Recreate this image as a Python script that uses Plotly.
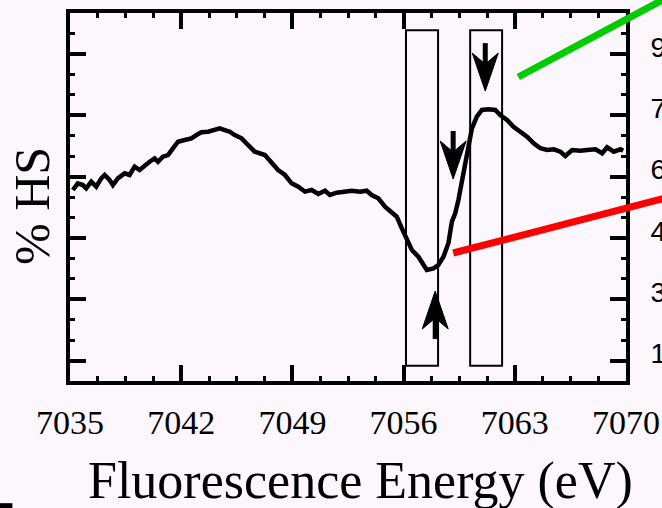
import plotly.graph_objects as go

# ---- data ----
energy_ev = [7035.18, 7035.49, 7035.81, 7036.02, 7036.34, 7036.65, 7036.97, 7037.18, 7037.49, 7037.70,
             7038.01, 7038.44, 7038.75, 7039.07, 7039.38, 7039.70, 7040.01, 7040.33, 7040.54, 7040.85,
             7041.17, 7041.48, 7041.80, 7042.22, 7042.64, 7042.96, 7043.27, 7043.69, 7044.11, 7044.43,
             7044.74, 7045.06, 7045.37, 7045.80, 7046.21, 7046.63, 7047.27, 7047.69, 7048.10, 7048.53,
             7048.95, 7049.37, 7049.79, 7050.21, 7050.63, 7051.05, 7051.36, 7051.79, 7052.31, 7052.73,
             7053.26, 7053.68, 7053.99, 7054.41, 7054.83, 7055.26, 7055.57, 7055.89, 7056.20, 7056.52,
             7056.93, 7057.46, 7057.88, 7058.19, 7058.51, 7058.82, 7059.04, 7059.25, 7059.45, 7059.67,
             7059.88, 7060.09, 7060.30, 7060.61, 7060.93, 7061.35, 7061.77, 7062.08, 7062.51, 7062.92,
             7063.35, 7063.77, 7064.19, 7064.61, 7065.03, 7065.45, 7065.87, 7066.18, 7066.61, 7067.13,
             7067.55, 7068.08, 7068.50, 7068.81, 7069.23, 7069.65, 7069.82]
signal = [56.71, 58.35, 57.93, 57.13, 58.74, 57.52, 59.57, 60.38, 59.16, 57.93,
          59.57, 60.79, 60.38, 62.41, 61.60, 62.82, 63.63, 64.46, 63.63, 64.85,
          65.27, 66.91, 68.52, 68.94, 69.35, 70.16, 70.82, 70.97, 71.38, 71.80,
          71.38, 70.97, 70.16, 69.35, 67.72, 66.08, 65.27, 63.24, 61.60, 60.38,
          58.35, 57.52, 56.30, 56.71, 55.73, 56.54, 55.49, 56.05, 56.30, 56.54,
          56.30, 56.54, 55.49, 54.68, 52.63, 51.40, 50.18, 47.34, 44.48, 42.04,
          40.40, 37.15, 37.56, 38.37, 40.40, 43.68, 48.96, 51.01, 54.27, 59.16,
          64.05, 68.13, 71.80, 74.64, 76.28, 76.45, 76.28, 75.05, 73.83, 72.19,
          70.97, 69.75, 68.13, 66.91, 66.49, 66.67, 66.08, 65.03, 66.49, 66.32,
          66.49, 66.67, 65.69, 67.15, 66.08, 66.67, 66.32]

x_tick_vals = [7035, 7042, 7049, 7056, 7063, 7070]
x_tick_text = ["7035", "7042", "7049", "7056", "7063", "7070"]
y_tick_vals = [15, 30, 45, 60, 75, 90]
y_tick_text = ["15", "30", "45", "60", "75", "90"]

# highlighted energy windows (x0, x1) and their vertical extent
windows = [(7056.15, 7058.17), (7060.19, 7062.20)]
window_y = (13.7, 95.8)
# arrows: (x, y of tip, direction)
arrows = [(7061.14, 80.9, "down"), (7059.12, 59.4, "down"), (7057.99, 32.0, "up")]

BG = "#fcf7fc"
SERIF = "Liberation Serif"
SANS = "Liberation Sans"

fig = go.Figure()
fig.add_trace(go.Scatter(x=energy_ev, y=signal, mode="lines",
                         line=dict(color="black", width=4.5), hoverinfo="skip",
                         showlegend=False))

shapes = []
for x0, x1 in windows:
    shapes.append(dict(type="rect", xref="x", yref="y", x0=x0, x1=x1,
                       y0=window_y[0], y1=window_y[1],
                       line=dict(color="black", width=2), fillcolor="rgba(0,0,0,0)",
                       layer="above"))

for ax_, ay_, d in arrows:
    s = 1 if d == "down" else -1
    # shaft
    shapes.append(dict(type="line", xref="x", yref="y", xsizemode="pixel", ysizemode="pixel",
                       xanchor=ax_, yanchor=ay_, x0=0, x1=0, y0=s * 20, y1=s * 48,
                       line=dict(color="black", width=5), layer="above"))
    # head
    path = "M0,0 L-13,{a} L0,{b} L13,{a} Z".format(a=s * 38, b=s * 27)
    shapes.append(dict(type="path", xref="x", yref="y", xsizemode="pixel", ysizemode="pixel",
                       xanchor=ax_, yanchor=ay_, path=path,
                       fillcolor="black", line=dict(color="black", width=1), layer="above"))

# pointer lines leading off the panel
shapes.append(dict(type="line", xref="paper", yref="paper", x0=0.8063, y0=0.8261,
                   x1=1.1342, y1=1.0908, line=dict(color="#00cc00", width=7), layer="above"))
shapes.append(dict(type="line", xref="paper", yref="paper", x0=0.6892, y0=0.3478,
                   x1=1.1342, y1=0.5223, line=dict(color="#ff0000", width=7), layer="above"))
# small crop artefact bottom-left
shapes.append(dict(type="rect", xref="paper", yref="paper", x0=-0.127, x1=-0.1036,
                   y0=-0.36, y1=-0.332, fillcolor="black", line=dict(width=0)))

annotations = [
    dict(text="Fluorescence Energy (eV)", xref="paper", yref="paper", x=0.5216, y=-0.2717,
         xanchor="center", yanchor="middle", showarrow=False,
         font=dict(family=SERIF, size=52, color="black")),
    dict(text="% HS", xref="paper", yref="paper", x=-0.0685, y=0.4755, textangle=-90,
         xanchor="center", yanchor="middle", showarrow=False,
         font=dict(family=SERIF, size=50, color="black")),
]

fig.update_layout(
    width=662, height=508,
    margin=dict(l=70, r=36, t=13, b=127, autoexpand=False),
    paper_bgcolor=BG, plot_bgcolor=BG,
    shapes=shapes, annotations=annotations,
    showlegend=False,
)
fig.update_xaxes(range=[7035, 7070], tickvals=x_tick_vals, ticktext=x_tick_text,
                 showline=True, linecolor="black", linewidth=4, mirror="allticks",
                 ticks="inside", ticklen=16, tickwidth=4, tickcolor="black",
                 minor=dict(ticks="inside", dtick=1.75, tick0=7035, ticklen=5, tickwidth=3,
                            tickcolor="black", showgrid=False),
                 showgrid=False, zeroline=False, ticklabelstandoff=8, automargin=False,
                 tickfont=dict(family=SERIF, size=34, color="black"))
fig.update_yaxes(range=[10, 100], tickvals=y_tick_vals, ticktext=y_tick_text, side="right",
                 showline=True, linecolor="black", linewidth=4, mirror="allticks",
                 ticks="inside", ticklen=16, tickwidth=4, tickcolor="black",
                 minor=dict(ticks="inside", dtick=5, tick0=10, ticklen=5, tickwidth=3,
                            tickcolor="black", showgrid=False),
                 showgrid=False, zeroline=False, ticklabelstandoff=15, ticklabelshift=-7,
                 automargin=False,
                 tickfont=dict(family=SANS, size=28, color="black"))

fig.write_html("out.html")
